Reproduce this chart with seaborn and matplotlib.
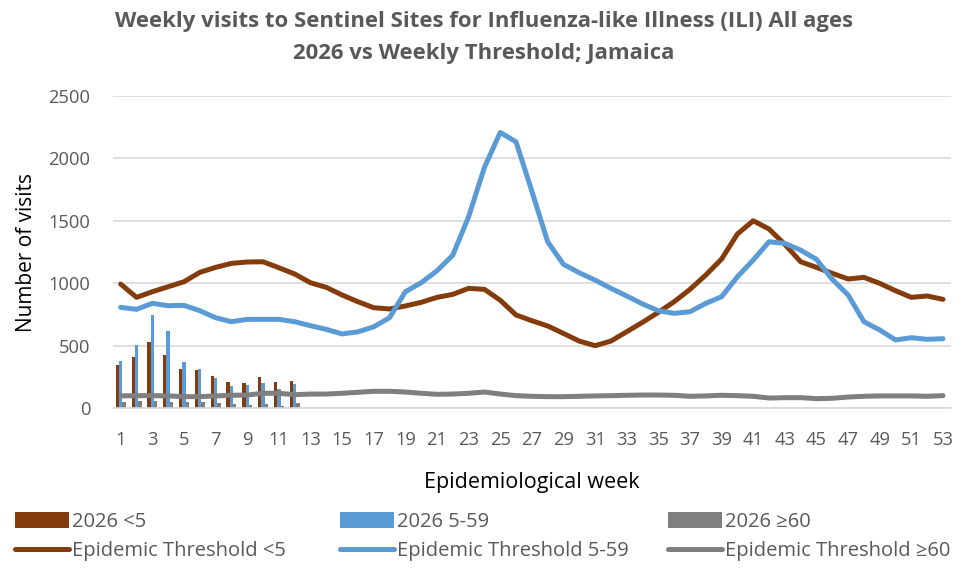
import numpy as np
import pandas as pd
import matplotlib
matplotlib.use('Agg')
import matplotlib.pyplot as plt
import seaborn as sns
from matplotlib.patches import Patch
from matplotlib.lines import Line2D

sns.set_style('white')
plt.rcParams['font.family'] = ['Open Sans', 'DejaVu Sans']

# ==================== 数据 ====================
weeks = list(range(1, 54))
bar_weeks = list(range(1, 13))

# 2026 周就诊数
visits_u5 = [344, 411, 531, 424, 318, 310, 259, 214, 206, 254, 214, 222]
visits_5_59 = [379, 505, 745, 617, 368, 318, 240, 179, 184, 200, 158, 195]
visits_60 = [48, 56, 56, 48, 48, 51, 40, 34, 26, 34, 18, 43]

# 流行阈值
thr_u5 = [994, 888, 933, 973, 1013, 1088, 1128, 1160, 1171, 1173,
          1125, 1075, 1005, 968, 907, 853, 805, 795, 819, 848,
          888, 912, 960, 952, 865, 747, 701, 659, 599, 538,
          501, 538, 613, 688, 768, 853, 952, 1067, 1195, 1395,
          1501, 1435, 1312, 1173, 1128, 1080, 1035, 1048, 1000, 941,
          888, 899, 872]
thr_5_59 = [808, 792, 840, 821, 824, 781, 725, 693, 712, 712,
            712, 693, 661, 632, 595, 612, 652, 725, 933, 1005,
            1101, 1226, 1533, 1928, 2208, 2133, 1738, 1333, 1152, 1085,
            1026, 960, 899, 835, 781, 760, 773, 840, 893, 1053,
            1187, 1333, 1320, 1266, 1192, 1032, 907, 693, 627, 547,
            565, 552, 557]
thr_60 = [99, 101, 101, 99, 93, 93, 99, 104, 106, 120,
          120, 109, 114, 114, 120, 128, 136, 136, 130, 120,
          112, 114, 120, 130, 114, 101, 96, 93, 93, 96,
          99, 101, 104, 106, 106, 104, 96, 99, 104, 101,
          96, 82, 85, 85, 77, 80, 90, 96, 99, 99,
          99, 96, 101]

groups = ['2026 <5', '2026 5-59', '2026 ≥60']
thr_labels = ['Epidemic Threshold <5', 'Epidemic Threshold 5-59', 'Epidemic Threshold ≥60']
colors = ['#843C0C', '#5B9BD5', '#7F7F7F']

bars = pd.DataFrame({
    'week': bar_weeks * 3,
    'visits': visits_u5 + visits_5_59 + visits_60,
    'group': [g for g in groups for _ in bar_weeks],
})
lines = pd.DataFrame({
    'week': weeks * 3,
    'visits': thr_u5 + thr_5_59 + thr_60,
    'group': [g for g in thr_labels for _ in weeks],
})

# ==================== 画图 ====================
fig = plt.figure(figsize=(9.7, 5.68), dpi=100)
ax = fig.add_axes([0.1163, 0.2812, 0.864, 0.5498])

sns.barplot(data=bars, x='week', y='visits', hue='group', palette=colors,
            native_scale=True, width=0.63, gap=0, dodge=True,
            saturation=1, ax=ax, legend=False, linewidth=0, edgecolor='none')
sns.lineplot(data=lines, x='week', y='visits', hue='group', palette=colors,
             linewidth=3.6, ax=ax, legend=False, zorder=3,
             solid_joinstyle='round', solid_capstyle='round')

ax.set_xlim(0.5, 53.5)
ax.set_ylim(0, 2500)
ax.set_yticks(range(0, 2501, 500))
ax.set_xticks(range(1, 54, 2))
ax.set_xticklabels([str(w) for w in range(1, 54, 2)])
ax.yaxis.grid(True, color='#D9D9D9', linewidth=1.2)
ax.set_axisbelow(True)
for s in ['top', 'right', 'left']:
    ax.spines[s].set_visible(False)
ax.spines['bottom'].set_color('#D9D9D9')
ax.spines['bottom'].set_linewidth(1.2)
ax.tick_params(axis='both', length=0, labelsize=13.2, labelcolor='#595959')
ax.tick_params(axis='x', pad=16)
ax.tick_params(axis='y', pad=16)

ax.set_xlabel('Epidemiological week', fontsize=15.5, color='black', labelpad=17)
ax.set_ylabel('Number of visits', fontsize=15, color='black', labelpad=8)

fig.text(0.499, 0.962, 'Weekly visits to Sentinel Sites for Influenza-like Illness (ILI) All ages',
         ha='center', va='center', fontsize=15.9, fontweight='bold', color='#595959')
fig.text(0.499, 0.906, '2026 vs Weekly Threshold; Jamaica',
         ha='center', va='center', fontsize=15.9, fontweight='bold', color='#595959')

# 图例：三列分开放
col_x = [15, 340, 668]
for i in range(3):
    handles = [Patch(facecolor=colors[i], edgecolor='none'),
               Line2D([0], [0], color=colors[i], linewidth=3.6, solid_capstyle='round')]
    fig.legend(handles, [groups[i], thr_labels[i]], loc='upper left',
               bbox_to_anchor=(col_x[i] / 970, 1 - 512 / 568), frameon=False,
               fontsize=14.5, labelcolor='#595959', handlelength=2.7,
               handleheight=0.8, handletextpad=0.15, labelspacing=0.45,
               borderpad=0, borderaxespad=0)

plt.savefig('out.png', dpi=100)
